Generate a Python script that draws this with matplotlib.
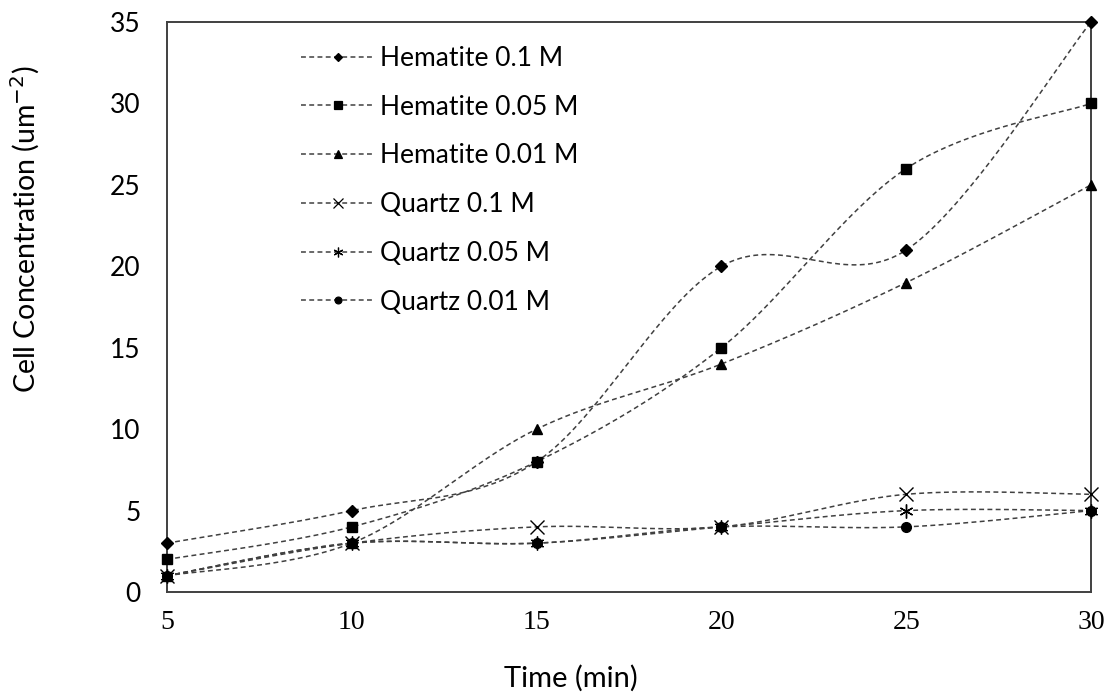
import matplotlib
matplotlib.use("Agg")
import matplotlib.pyplot as plt
import numpy as np

# adsorption data, cell counts per um^2
time_min = [5, 10, 15, 20, 25, 30]
hematite_01 = [3, 5, 8, 20, 21, 35]
hematite_005 = [2, 4, 8, 15, 26, 30]
hematite_001 = [1, 3, 10, 14, 19, 25]
quartz_01 = [1, 3, 4, 4, 6, 6]
quartz_005 = [1, 3, 3, 4, 5, 5]
quartz_001 = [1, 3, 3, 4, 4, 5]

labels = ["Hematite 0.1 M", "Hematite 0.05 M", "Hematite 0.01 M",
          "Quartz 0.1 M", "Quartz 0.05 M", "Quartz 0.01 M"]
series = [hematite_01, hematite_005, hematite_001, quartz_01, quartz_005, quartz_001]
markers = ["D", "s", "^", "x", (6, 2, 0), "o"]
msizes = [6, 7.5, 7.5, 10, 10, 7]

SANS = "Lato"
SERIF = "Liberation Serif"


def smooth(x, y, n=40):
    # spreadsheet-style smoothed line (cubic bezier through each point)
    x = np.asarray(x, float)
    y = np.asarray(y, float)
    px = np.concatenate([[x[0]], x, [x[-1]]])
    py = np.concatenate([[y[0]], y, [y[-1]]])
    t = np.linspace(0, 1, n)
    xs, ys = [], []
    for i in range(1, len(px) - 2):
        b0 = np.array([px[i], py[i]])
        b3 = np.array([px[i + 1], py[i + 1]])
        b1 = b0 + (np.array([px[i + 1], py[i + 1]]) - np.array([px[i - 1], py[i - 1]])) / 6
        b2 = b3 - (np.array([px[i + 2], py[i + 2]]) - np.array([px[i], py[i]])) / 6
        pts = (np.outer((1 - t) ** 3, b0) + np.outer(3 * (1 - t) ** 2 * t, b1)
               + np.outer(3 * (1 - t) * t ** 2, b2) + np.outer(t ** 3, b3))
        xs.append(pts[:, 0])
        ys.append(pts[:, 1])
    return np.concatenate(xs), np.concatenate(ys)


fig = plt.figure(figsize=(11.08, 6.96), dpi=100)
ax = fig.add_axes([0.1507, 0.1494, 0.8340, 0.8190])

dash = (0, (3.2, 2.2))
line_col = "#404040"
for y, lab, m, ms in zip(series, labels, markers, msizes):
    sx, sy = smooth(time_min, y)
    ax.plot(sx, sy, color=line_col, lw=1.1, linestyle=dash, zorder=2)
    ax.plot(time_min, y, linestyle="none", marker=m, ms=ms, color="black",
            mec="black", mew=1.0, zorder=3, clip_on=False)
    # legend proxy
    ax.plot([], [], color=line_col, lw=1.1, linestyle=dash, marker=m,
            ms=ms * 0.7, mec="black", mfc="black", mew=0.9, label=lab)

ax.set_xlim(5, 30)
ax.set_ylim(0, 35)
ax.set_xticks(time_min)
ax.set_yticks(np.arange(0, 36, 5))
ax.tick_params(length=0)
ax.tick_params(axis="x", pad=13)
ax.tick_params(axis="y", pad=19)
for t in ax.get_xticklabels():
    t.set_fontfamily(SERIF)
    t.set_fontsize(20)
for t in ax.get_yticklabels():
    t.set_fontfamily(SANS)
    t.set_fontsize(19)

for s in ax.spines.values():
    s.set_color("#404040")
    s.set_linewidth(1.4)

fig.text(0.023, 0.67, "Cell Concentration (um$^{-2}$)", rotation=90,
         ha="center", va="center", fontsize=20.5, family=SANS)
fig.text(0.515, 0.026, "Time (min)", ha="center", va="center",
         fontsize=21, family=SANS)

leg = ax.legend(loc="upper left", bbox_to_anchor=(0.2717, 0.934),
                bbox_transform=fig.transFigure, frameon=False, numpoints=1,
                handlelength=2.8, handletextpad=0.2, labelspacing=0.9,
                borderpad=0, borderaxespad=0, prop={"family": SANS, "size": 19})

fig.savefig("out.png", dpi=100, facecolor="white")
